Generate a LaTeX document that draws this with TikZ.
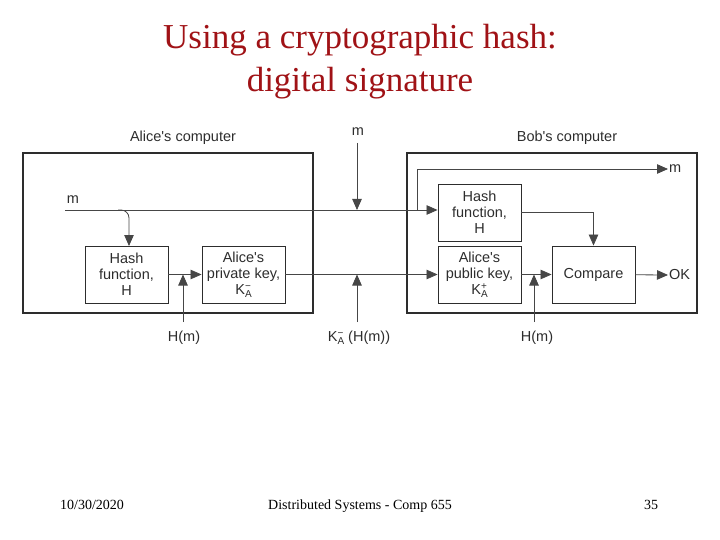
\documentclass[tikz,border=0pt]{standalone}
\usepackage{fontspec}
\setmainfont{Liberation Serif}
\newfontfamily\diagfont{Liberation Sans}
\usetikzlibrary{arrows.meta}
\definecolor{titlered}{RGB}{160,18,22}
\definecolor{ink}{RGB}{45,45,45}
\definecolor{wire}{RGB}{70,70,70}
\newcommand{\keyA}[1]{K\makebox[0pt][l]{\raisebox{0.6ex}{\fontsize{10}{10}\selectfont #1}}\raisebox{-0.45ex}{\fontsize{10}{10}\selectfont A}}
\begin{document}
\begin{tikzpicture}[x=1pt,y=-1pt,
  computer/.style={draw=ink, line width=2.4pt, minimum width=290pt, minimum height=160pt, inner sep=0pt},
  blk/.style={draw=ink, line width=0.9pt, minimum width=83pt, minimum height=57pt, inner sep=0pt, align=center, text=ink, font=\diagfont\fontsize{14.5}{16}\selectfont},
  lbl/.style={text=ink, inner sep=1pt, font=\diagfont\fontsize{14.5}{16}\selectfont},
  conn/.style={draw=wire, line width=0.8pt},
  arr/.style={conn, -{Triangle[length=11pt,width=9.5pt]}},
  ttl/.style={text=titlered, anchor=base, inner sep=0pt, font=\fontsize{35}{42}\selectfont},
  foot/.style={text=black, anchor=base, inner sep=0pt, font=\fontsize{14}{16}\selectfont}
]
\useasboundingbox (0,0) rectangle (720,540);

% title and footer
\node[ttl] (title1) at (360,49) {Using a cryptographic hash:};
\node[ttl] (title2) at (360,92) {digital signature};
\node[foot] (date) at (92,509) {10/30/2020};
\node[foot] (course) at (360,509) {Distributed Systems - Comp 655};
\node[foot] (page) at (651,509) {35};

% computers
\node[computer] (alice) at (168,233) {};
\node[computer] (bob) at (552,233) {};
\node[lbl] (alicelbl) at (183,138) {Alice's computer};
\node[lbl] (boblbl) at (567,138) {Bob's computer};

% blocks
\node[blk] (aliceHash) at (126.5,274.5) {Hash\\function,\\H};
\node[blk] (aliceKey) at (243.5,274.5) {Alice's\\private key,\\\keyA{−}};
\node[blk] (bobHash) at (479.5,212.5) {Hash\\function,\\H};
\node[blk] (bobKey) at (479.5,274.5) {Alice's\\public key,\\\keyA{+}};
\node[blk] (compare) at (593.5,274.5) {Compare};

% labels
\node[lbl] (mleft) at (73,200) {m};
\node[lbl] (mtop) at (358,132) {m};
\node[lbl, anchor=west] (mout) at (668,169) {m};
\node[lbl, anchor=west] (ok) at (668,275) {OK};
\node[lbl] (hm1) at (184,338) {H(m)};
\node[lbl] (sig) at (359,338) {\keyA{−}\hspace{4pt}(H(m))};
\node[lbl] (hm2) at (537,338) {H(m)};

% coordinates
\coordinate (mstart) at (65,210);
\coordinate (branchA) at (118,210);
\coordinate (hashAin) at (129,246);
\coordinate (branchB) at (417,210);
\coordinate (mtopstart) at (357,143);
\coordinate (hm1top) at (183,322);
\coordinate (sigtop) at (357,322);
\coordinate (hm2top) at (534,322);

% connectors
\draw[arr] (mstart) -- (bobHash.west |- mstart);
\draw[arr, rounded corners=8pt] (branchA) -| (hashAin);
\draw[arr] (mtopstart) -- (mtopstart |- mstart);
\draw[arr] (branchB) |- (mout.west);
\draw[arr] (aliceHash) -- (aliceKey);
\draw[arr] (hm1top) -- (hm1top |- aliceKey);
\draw[arr] (aliceKey) -- (bobKey);
\draw[arr] (sigtop) -- (sigtop |- aliceKey);
\draw[arr] (bobHash.east) -| (compare.north);
\draw[arr] (bobKey) -- (compare);
\draw[arr] (hm2top) -- (hm2top |- compare);
\draw[arr] (compare) -- (ok.west);
\end{tikzpicture}
\end{document}
